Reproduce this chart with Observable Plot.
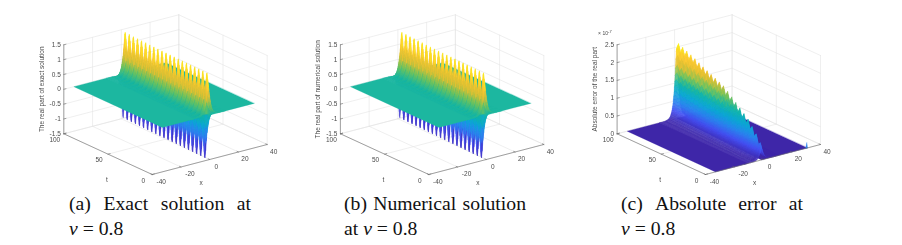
<!DOCTYPE html>
<html><head><meta charset="utf-8">
<script src="https://cdn.jsdelivr.net/npm/d3@7"></script>
<script src="https://cdn.jsdelivr.net/npm/@observablehq/plot@0.6"></script>
<style>
html,body{margin:0;padding:0;background:#fff;width:902px;height:245px;overflow:hidden}
.panel{position:absolute;top:0;filter:blur(0.3px)}
.panel svg{display:block;background:transparent}
.cap{position:absolute;top:191px;width:182px;font:19.7px/25px "Liberation Serif",serif;color:#111;white-space:nowrap}
.cap .l1{display:flex;justify-content:space-between}
</style></head><body>
<script>
// ---- values ----
const xTicks = [-40,-20,0,20,40];
const tTicks = [0,50,100];
const zTicksSolution = [-1.5,-1,-0.5,0,0.5,1,1.5];
const zTicksError = [0,0.5,1,1.5,2,2.5];
const captions = [["(a) Exact solution at","ν"," = 0.8",""],["(b) Numerical solution","ν"," = 0.8","at "],["(c) Absolute error at","ν"," = 0.8",""]];
const zLabels = ["The real part of exact solution","The real part of numerical solution","Absolute error of the real part"];
// half-wave instants along the crest (t), crest centre (x) and crest height (z)
const halfWaveT = [100,97.6,95.2,92.8,90.4,88,85.6,83.2,80.8,78.4,76,73.6,71.2,68.8,66.4,64,61.6,59.2,56.8,54.4,52,49.6,47.2,44.8,42.4,40,37.6,35.2,32.8,30.4,28,25.6,23.2,20.8,18.4,16,13.6,11.2,8.8,6.4,4,1.6];
const crestCentre = [1.3,1.25,1.2,1.15,1.1,1.05,1,0.95,0.85,0.8,0.75,0.7,0.65,0.6,0.55,0.5,0.4,0.35,0.3,0.25,0.2,0.15,0.1,0.05,0,-0.05,-0.1,-0.15,-0.2,-0.3,-0.35,-0.4,-0.45,-0.5,-0.55,-0.6,-0.7,-0.75,-0.8,-0.85,-0.9,-1];
const exactCrest = [-1.48,1.42,-1.48,1.42,-1.48,1.41,-1.48,1.41,-1.48,1.41,-1.48,1.41,-1.48,1.4,-1.48,1.4,-1.48,1.4,-1.48,1.4,-1.48,1.4,-1.48,1.4,-1.48,1.4,-1.48,1.4,-1.48,1.4,-1.48,1.4,-1.48,1.4,-1.48,1.4,-1.48,1.4,-1.48,1.4,-1.48,1.4];
const numericalCrest = [-1.48,1.42,-1.48,1.42,-1.48,1.41,-1.48,1.41,-1.48,1.41,-1.48,1.41,-1.48,1.4,-1.48,1.4,-1.48,1.4,-1.48,1.4,-1.48,1.4,-1.48,1.4,-1.48,1.4,-1.48,1.4,-1.48,1.4,-1.48,1.4,-1.48,1.4,-1.48,1.4,-1.48,1.4,-1.48,1.4,-1.48,1.4];
const errorCrest = [1.95,2.12,1.9,2.07,1.85,2.02,1.8,1.97,1.75,1.92,1.7,1.86,1.65,1.8,1.6,1.75,1.55,1.7,1.5,1.65,1.45,1.6,1.4,1.55,1.3,1.45,1.2,1.35,1.1,1.25,1,1.15,0.9,1.05,0.8,0.95,0.7,0.8,0.55,0.65,0.35,0.46];
// cross-section of the crest: distance from centre and share of crest height
const crossX = [12,8,6,4,3,2,1.5,1,0.5,0,-0.25,-0.5,-0.75,-1,-1.25,-1.5,-1.75,-2,-2.25,-2.5,-2.75,-3,-3.25,-3.5,-3.75,-4,-4.5,-5,-6,-8,-12];
const crossShare = [0,0.002,0.015,0.07,0.15,0.32,0.45,0.62,0.85,1,0.96,0.85,0.72,0.62,0.53,0.45,0.38,0.32,0.27,0.22,0.18,0.15,0.125,0.1,0.085,0.07,0.045,0.03,0.015,0.002,0];
const surfaceX = [-33,31];
const surfaceT = [0,100];
// steps between neighbouring half-waves: weight of this one and of the next
const stepThisWave = [1,0.67,0.33,0,0,0];
const stepNextWave = [0,0,0,0,0.33,0.67];
const stepThisError = [1,0.67,0.33];
const stepNextError = [0,0.33,0.67];
const edgeSpike = {x:[29.6,30.5,31],z:[0,0.16,0]};
const parula = ["#3e26a8","#4650f2","#2a86ee","#0ca8d5","#12b5a8","#72c45c","#e2c032","#fdc932","#f9f515"];
const panelLeft = [30,307,583];
const panelFront = [151.7,428.3,705];
const capLeft = [69,344,621];
const panels = [
 {crest:exactCrest,zTicks:zTicksSolution,zMin:-1.5,zMax:1.5,dom:[-1.32,1.25],sT:stepThisWave,sN:stepNextWave},
 {crest:numericalCrest,zTicks:zTicksSolution,zMin:-1.5,zMax:1.5,dom:[-1.32,1.25],sT:stepThisWave,sN:stepNextWave},
 {crest:errorCrest,zTicks:zTicksError,zMin:0,zMax:2.5,dom:[0,2.05],sT:stepThisError,sN:stepNextError}
];
// ---- 3-D view ----
const W=270,H=190,floorSpan=89;
panels.forEach((p,i)=>{
  const ox=panelFront[i]-panelLeft[i];
  const zs=floorSpan/(p.zMax-p.zMin);
  const P=(x,t,z)=>({X:ox+(x+40)*1.4375-t*0.884, Y:174-(x+40)*0.375-t*0.407-(z-p.zMin)*zs});
  const samples=[];
  halfWaveT.forEach((t,k)=>{
    if(k===halfWaveT.length-1){samples.push({t,c:crestCentre[k],z:p.crest[k]});samples.push({t:surfaceT[0],c:crestCentre[k],z:p.crest[k]*0.7});return;}
    const nt=halfWaveT[k+1],n=p.sT.length;
    p.sT.forEach((w,j)=>samples.push({t:t+(nt-t)*j/n,c:crestCentre[k],z:p.crest[k]*w+p.crest[k+1]*p.sN[j]}));
  });
  const cells=[];let id=0;
  const cell=(corners,zv)=>{const n=id++;corners.forEach(c=>cells.push({id:n,X:c.X,Y:c.Y,v:zv}));};
  const flat=0;
  const ridge=(a,s)=>{
    const A=samples[s],B=samples[s+1];
    const q=(sm,b)=>P(sm.c+crossX[b],sm.t,sm.z*crossShare[b]);
    return {corners:[q(A,a),q(A,a+1),q(B,a+1),q(B,a)],zv:(A.z+B.z)*(crossShare[a]+crossShare[a+1])/4};
  };
  const centreIdx=crossX.indexOf(0);
  // far side of the troughs, then the plane behind the crest, then the rest nearer and nearer
  for(let a=0;a<centreIdx;a++)for(let s=0;s<samples.length-1;s++){
    const r=ridge(a,s); if(r.zv<0) cell(r.corners,r.zv);
  }
  cell([P(surfaceX[1],surfaceT[1],flat),P(crestCentre[0],surfaceT[1],flat),P(crestCentre[41],surfaceT[0],flat),P(surfaceX[1],surfaceT[0],flat)],flat);
  if(i===2) cell(edgeSpike.x.map((x,k)=>P(x,0,edgeSpike.z[k])),0.5);
  for(let a=0;a<crossX.length-1;a++)for(let s=0;s<samples.length-1;s++){
    const r=ridge(a,s); if(a>=centreIdx||r.zv>=0) cell(r.corners,r.zv);
  }
  cell([P(-10.5,surfaceT[1],flat),P(surfaceX[0],surfaceT[1],flat),P(surfaceX[0],surfaceT[0],flat),P(-10.5,surfaceT[0],flat)],flat);
  const grid=[],axes=[];let gid=0;
  const seg=(arr,a,b)=>{const n=gid++;arr.push({id:n,...a},{id:n,...b});};
  xTicks.forEach(x=>{seg(grid,P(x,0,p.zMin),P(x,100,p.zMin));seg(grid,P(x,100,p.zMin),P(x,100,p.zMax));});
  tTicks.forEach(t=>{seg(grid,P(-40,t,p.zMin),P(40,t,p.zMin));seg(grid,P(40,t,p.zMin),P(40,t,p.zMax));});
  p.zTicks.forEach(z=>{seg(grid,P(-40,100,z),P(40,100,z));seg(grid,P(40,100,z),P(40,0,z));});
  seg(axes,P(-40,0,p.zMin),P(40,0,p.zMin));
  seg(axes,P(-40,0,p.zMin),P(-40,100,p.zMin));
  seg(axes,P(-40,100,p.zMin),P(-40,100,p.zMax));
  xTicks.forEach(x=>seg(axes,P(x,0,p.zMin),P(x,1.6,p.zMin)));
  tTicks.forEach(t=>seg(axes,P(-40,t,p.zMin),P(-38.5,t,p.zMin)));
  p.zTicks.forEach(z=>seg(axes,P(-40,100,z),P(-38.5,100,z)));
  const xLab=xTicks.map(x=>({...P(x,0,p.zMin),s:String(x),neg:x<0}));
  const tLab=tTicks.map(t=>({...P(-40,t,p.zMin),s:String(t)}));
  const zLab=p.zTicks.map(z=>({...P(-40,100,z),s:String(z)}));
  const tx={fontFamily:"Liberation Sans",fontSize:6.5,fill:"#4a4a4a"};
  const plot=Plot.plot({
    width:W,height:H,margin:0,
    x:{domain:[0,W],range:[0,W],axis:null},
    y:{domain:[0,H],range:[0,H],axis:null},
    color:{type:"linear",domain:d3.range(parula.length).map(k=>p.dom[0]+(p.dom[1]-p.dom[0])*k/(parula.length-1)),range:parula,interpolate:"rgb",clamp:true},
    marks:[
      Plot.line(grid,{x:"X",y:"Y",z:"id",stroke:"#e4e4e4",strokeWidth:0.6}),
      Plot.line(cells,{x:"X",y:"Y",z:"id",fill:"v",stroke:"v",strokeWidth:0.25,curve:"linear-closed"}),
      Plot.line(axes,{x:"X",y:"Y",z:"id",stroke:"#6a6a6a",strokeWidth:0.6}),
      Plot.text(xLab,{x:d=>d.X+(d.neg?9:6.5),y:"Y",text:"s",dy:7,...tx}),
      Plot.text(tLab,{x:"X",y:"Y",text:"s",dx:-9,dy:6,...tx}),
      Plot.text(zLab,{x:"X",y:"Y",text:"s",dx:-3,textAnchor:"end",...tx}),
      Plot.text([{...P(0,0,p.zMin),s:"x"}],{x:"X",y:"Y",text:"s",dx:-8.5,dy:23.7,...tx}),
      Plot.text([{...P(-40,50,p.zMin),s:"t"}],{x:"X",y:"Y",text:"s",dx:-1.2,dy:26,...tx}),
      Plot.text([{...P(-40,100,(p.zMin+p.zMax)/2),s:zLabels[i]}],{x:"X",y:"Y",text:"s",dx:-22,rotate:-90,...tx}),
      ...(i===2?[
        Plot.text([{...P(-40,100,p.zMax),s:"× 10"}],{x:"X",y:"Y",text:"s",dx:-19,dy:-11,textAnchor:"start",...tx,fontSize:5}),
        Plot.text([{...P(-40,100,p.zMax),s:"-7"}],{x:"X",y:"Y",text:"s",dx:-9,dy:-13,textAnchor:"start",...tx,fontSize:4})
      ]:[])
    ]
  });
  const d=document.createElement("div");d.className="panel";d.style.left=panelLeft[i]+"px";d.append(plot);document.body.append(d);
  const c=document.createElement("div");c.className="cap";c.style.left=capLeft[i]+"px";
  const [l1,nu,rest,pre]=captions[i];
  c.innerHTML=`<div class="l1">${l1.split(" ").map(w=>`<span>${w}</span>`).join("")}</div><div>${pre}<i>${nu}</i>${rest}</div>`;
  document.body.append(c);
});
</script>
</body></html>
